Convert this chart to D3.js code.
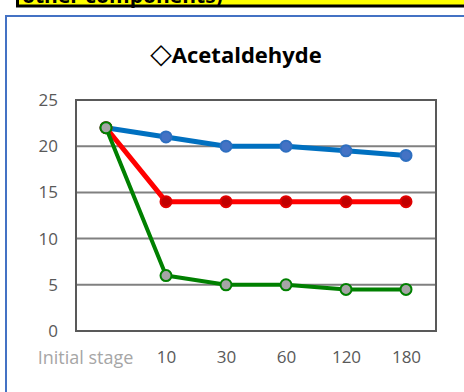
<!DOCTYPE html>
<html>
<head>
<meta charset="utf-8">
<script src="https://cdn.jsdelivr.net/npm/d3@7/dist/d3.min.js"></script>
<style>
  html, body { margin: 0; padding: 0; background: #fff; }
  svg { display: block; }
</style>
</head>
<body>
<svg id="chart" width="464" height="392"></svg>
<script>
const categories = ["Initial stage", "10", "30", "60", "120", "180"];
const seriesBlue = [22, 21, 20, 20, 19.5, 19];
const seriesRed = [22, 14, 14, 14, 14, 14];
const seriesGreen = [22, 6, 5, 5, 4.5, 4.5];
const yTicks = [0, 5, 10, 15, 20, 25];
const titleSymbol = "◇";
const titleWord = "Acetaldehyde";
const headerText = "other components)";

const svg = d3.select("#chart");
const font = "'Open Sans', 'Noto Sans', sans-serif";

// header yellow box (cut off at top)
svg.append("rect").attr("x", 17.5).attr("y", -20).attr("width", 480).attr("height", 26)
  .attr("fill", "#FFFF00").attr("stroke", "#000").attr("stroke-width", 3);
svg.append("text").attr("x", 22).attr("y", 3).attr("font-family", font)
  .attr("font-weight", "bold").attr("font-size", 21).attr("fill", "#000").text(headerText);

// chart frame
svg.append("rect").attr("x", 6).attr("y", 16).attr("width", 480).attr("height", 400)
  .attr("fill", "#fff").attr("stroke", "#4472C4").attr("stroke-width", 2);

const margin = { left: 76, right: 436, top: 100, bottom: 331 };
const x = d3.scalePoint().domain(categories).range([margin.left, margin.right]).padding(0.5);
const y = d3.scaleLinear().domain([0, 25]).range([margin.bottom, margin.top]);

// title
const title = svg.append("text").attr("x", 236).attr("y", 63).attr("text-anchor", "middle")
  .attr("font-family", font).attr("font-weight", "bold").attr("font-size", 22)
  .attr("fill", "#000");
title.append("tspan").attr("font-weight", "normal").attr("font-size", 28)
  .attr("font-family", "'DejaVu Sans', sans-serif").text(titleSymbol);
title.append("tspan").text(titleWord);

// gridlines
svg.append("g").selectAll("line").data(yTicks.filter(d => d > 0 && d < 25)).join("line")
  .attr("x1", margin.left).attr("x2", margin.right)
  .attr("y1", d => y(d)).attr("y2", d => y(d))
  .attr("stroke", "#808080").attr("stroke-width", 2);

// plot border
svg.append("rect").attr("x", margin.left).attr("y", margin.top)
  .attr("width", margin.right - margin.left).attr("height", margin.bottom - margin.top)
  .attr("fill", "none").attr("stroke", "#595959").attr("stroke-width", 2);

// y axis labels
const yAxis = d3.axisLeft(y).tickValues(yTicks).tickSize(0).tickPadding(18);
const gy = svg.append("g").attr("transform", `translate(${margin.left},0)`).call(yAxis);
gy.select(".domain").remove();
gy.selectAll("text").attr("font-family", font).attr("font-size", 17).attr("fill", "#595959");

// x axis labels
const xAxis = d3.axisBottom(x).tickSize(0).tickPadding(20);
const gx = svg.append("g").attr("transform", `translate(0,${margin.bottom})`).call(xAxis);
gx.select(".domain").remove();
gx.selectAll("text").attr("font-family", font).attr("font-size", 17).attr("fill", "#595959")
  .attr("dy", "0.71em");
gx.selectAll("text").filter(d => d === categories[0])
  .attr("fill", "#A6A6A6").attr("font-size", 18).attr("dx", -21);

const line = d3.line().x((d, i) => x(categories[i])).y(d => y(d));

const series = [
  { values: seriesBlue, stroke: "#0070C0", width: 5, fill: "#4472C4", mstroke: "#2E6FC0" },
  { values: seriesRed, stroke: "#FF0000", width: 5, fill: "#C00000", mstroke: "#E00000" },
  { values: seriesGreen, stroke: "#008000", width: 4, fill: "#A5A5A5", mstroke: "#008000" }
];

series.forEach(s => {
  const g = svg.append("g");
  g.append("path").datum(s.values).attr("d", line)
    .attr("fill", "none").attr("stroke", s.stroke).attr("stroke-width", s.width)
    .attr("stroke-linejoin", "round");
  g.selectAll("circle").data(s.values).join("circle")
    .attr("cx", (d, i) => x(categories[i])).attr("cy", d => y(d)).attr("r", 5.5)
    .attr("fill", s.fill).attr("stroke", s.mstroke).attr("stroke-width", 2);
});
</script>
</body>
</html>
